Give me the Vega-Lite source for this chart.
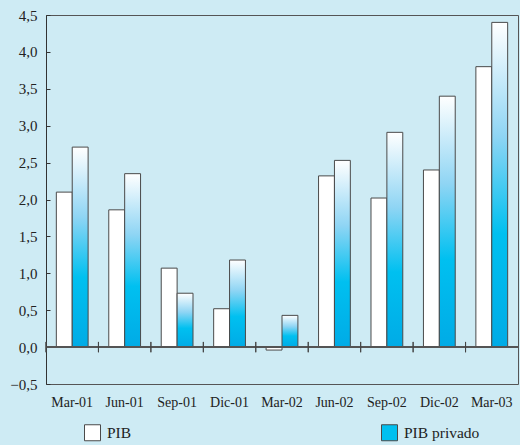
{
  "$schema": "https://vega.github.io/schema/vega-lite/v6.json",
  "width": 472,
  "height": 369,
  "autosize": {"type": "none"},
  "padding": {"left": 46, "top": 15, "right": 2, "bottom": 61},
  "background": "#ceebf4",
  "config": {
    "locale": {
      "number": {"decimal": ",", "thousands": ".", "grouping": [3], "currency": ["", " €"]}
    },
    "view": {"stroke": "#555", "strokeWidth": 1, "fill": "#ceebf4"},
    "font": "Liberation Serif",
    "axisY": {
      "labelOverlap": false,
      "grid": false,
      "domainColor": "#333",
      "tickColor": "#333",
      "tickSize": -4,
      "labelPadding": 13,
      "labelFontSize": 15,
      "labelFont": "Liberation Serif",
      "labelColor": "#222"
    }
  },
  "data": {
    "values": [
      {"periodo": "Mar-01", "serie": "PIB", "valor": 2.10},
      {"periodo": "Mar-01", "serie": "PIB privado", "valor": 2.71},
      {"periodo": "Jun-01", "serie": "PIB", "valor": 1.86},
      {"periodo": "Jun-01", "serie": "PIB privado", "valor": 2.35},
      {"periodo": "Sep-01", "serie": "PIB", "valor": 1.07},
      {"periodo": "Sep-01", "serie": "PIB privado", "valor": 0.73},
      {"periodo": "Dic-01", "serie": "PIB", "valor": 0.52},
      {"periodo": "Dic-01", "serie": "PIB privado", "valor": 1.18},
      {"periodo": "Mar-02", "serie": "PIB", "valor": -0.04},
      {"periodo": "Mar-02", "serie": "PIB privado", "valor": 0.43},
      {"periodo": "Jun-02", "serie": "PIB", "valor": 2.32},
      {"periodo": "Jun-02", "serie": "PIB privado", "valor": 2.53},
      {"periodo": "Sep-02", "serie": "PIB", "valor": 2.02},
      {"periodo": "Sep-02", "serie": "PIB privado", "valor": 2.91},
      {"periodo": "Dic-02", "serie": "PIB", "valor": 2.40},
      {"periodo": "Dic-02", "serie": "PIB privado", "valor": 3.40},
      {"periodo": "Mar-03", "serie": "PIB", "valor": 3.80},
      {"periodo": "Mar-03", "serie": "PIB privado", "valor": 4.40}
    ]
  },
  "layer": [
    {
      "mark": {"type": "bar", "stroke": "#4a4a4a", "strokeWidth": 1},
      "encoding": {
        "x": {
          "field": "periodo",
          "type": "nominal",
          "sort": null,
          "scale": {"paddingInner": 0, "paddingOuter": 0},
          "axis": {
            "title": null,
            "orient": "bottom",
            "ticks": false,
            "domain": false,
            "labelAngle": 0,
            "labelPadding": 11,
            "labelFontSize": 14,
            "labelFont": "Liberation Serif",
            "labelColor": "#222"
          }
        },
        "xOffset": {
          "field": "serie",
          "type": "nominal",
          "scale": {"paddingInner": 0, "paddingOuter": 0.65}
        },
        "y": {
          "field": "valor",
          "type": "quantitative",
          "scale": {"domain": [-0.5, 4.5], "nice": false, "zero": false},
          "axis": {
            "title": null,
            "tickCount": 10,
            "format": ".1f",
            "labelOverlap": false
          }
        },
        "fill": {
          "condition": {
            "test": "datum.serie === 'PIB privado'",
            "value": {
              "gradient": "linear",
              "x1": 0, "y1": 0, "x2": 0, "y2": 1,
              "stops": [
                {"offset": 0, "color": "#ffffff"},
                {"offset": 0.35, "color": "#8fd5f4"},
                {"offset": 0.65, "color": "#00c0f0"},
                {"offset": 1, "color": "#00abe6"}
              ]
            }
          },
          "field": "serie",
          "type": "nominal",
          "scale": {"domain": ["PIB", "PIB privado"], "range": ["#ffffff", "#00c0f0"]},
          "legend": {
            "title": null,
            "orient": "none",
            "legendX": 38,
            "legendY": 409,
            "direction": "horizontal",
            "columns": 2,
            "columnPadding": 247,
            "symbolType": "square",
            "symbolSize": 256,
            "symbolStrokeColor": "#4a4a4a",
            "symbolStrokeWidth": 1,
            "symbolOpacity": 1,
            "labelFontSize": 15.5,
            "labelFont": "Liberation Serif",
            "labelColor": "#222",
            "labelOffset": 6
          }
        }
      }
    },
    {
      "mark": {"type": "rule", "color": "#555", "strokeWidth": 1},
      "encoding": {"y": {"datum": 0}}
    },
    {
      "mark": {"type": "rule", "color": "#444", "strokeWidth": 1},
      "encoding": {
        "x": {"field": "periodo", "type": "nominal", "sort": null, "bandPosition": 0},
        "y": {"datum": -0.07},
        "y2": {"datum": 0.07}
      }
    }
  ]
}
